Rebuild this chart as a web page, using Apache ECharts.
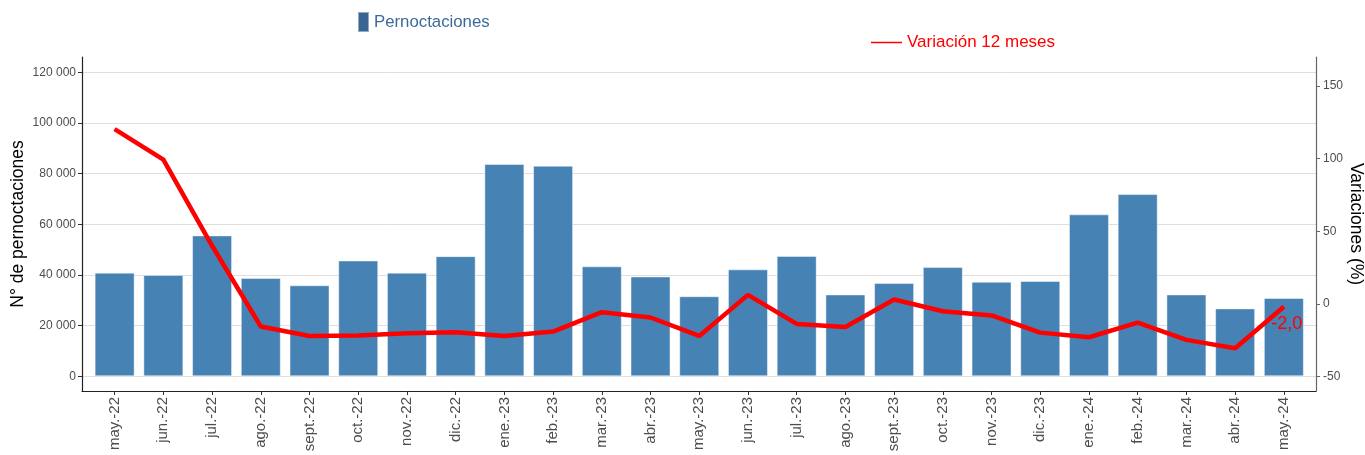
<!DOCTYPE html>
<html>
<head>
<meta charset="utf-8">
<script src="https://cdn.jsdelivr.net/npm/echarts@6/dist/echarts.min.js"></script>
<style>
html,body{margin:0;padding:0;background:#fff;}
#chart{width:1365px;height:455px;}
</style>
</head>
<body>
<div id="chart"></div>
<script>
const categories = ['may.-22','jun.-22','jul.-22','ago.-22','sept.-22','oct.-22','nov.-22','dic.-22','ene.-23','feb.-23','mar.-23','abr.-23','may.-23','jun.-23','jul.-23','ago.-23','sept.-23','oct.-23','nov.-23','dic.-23','ene.-24','feb.-24','mar.-24','abr.-24','may.-24'];
const pernoctaciones = [40900,40000,55600,38800,35900,45700,40900,47400,83800,83100,43400,39400,31600,42200,47500,32300,36800,43100,37300,37600,63900,71900,32300,26800,30900];
const variacion = [120.3,99.3,40.0,-15.6,-22.1,-21.8,-20.2,-19.5,-22.1,-19.1,-5.7,-9.4,-22.1,6.2,-13.8,-15.9,3.0,-5.1,-8.0,-19.8,-23.0,-12.9,-24.8,-30.6,-2.0];
const leftTicks = [0,20000,40000,60000,80000,100000,120000];
const rightTicks = [-50,0,50,100,150];

const idx = categories.map((c,i)=>i);
const fmtThousands = v => String(v).replace(/\B(?=(\d{3})+(?!\d))/g, ' ');
const barData = pernoctaciones.map((v,i)=>[i,v]);
const lineData = variacion.map((v,i)=>{
  const item = {value:[i,v]};
  if (i === variacion.length-1) {
    item.label = {show:true, position:'bottom', distance:8, offset:[3,0],
      formatter: p => p.value[1].toFixed(1).replace('.', ','),
      color:'#FF0000', fontSize:18, fontFamily:'Liberation Sans'};
  }
  return item;
});

const chart = echarts.init(document.getElementById('chart'), null, {renderer:'canvas'});
const font = 'Liberation Sans';
chart.setOption({
  animation:false,
  textStyle:{fontFamily:font},
  legend:[
    {data:['Pernoctaciones'], left:357, top:11, padding:0, icon:'rect', itemWidth:11, itemHeight:20,
     itemStyle:{color:'#3a6591'},
     textStyle:{color:'#3b6a9a', fontSize:16.8, fontFamily:font}},
    {data:['Variación 12 meses'], left:871, top:34, padding:0, icon:'rect', itemWidth:31, itemHeight:1.5,
     textStyle:{color:'#FF0000', fontSize:17, fontFamily:font}}
  ],
  grid:{left:82, right:49, top:57, bottom:64, containLabel:false, outerBoundsMode:'none'},
  xAxis:{
    type:'value', min:-0.67, max:24.66,
    axisLine:{show:true, onZero:false, lineStyle:{color:'#222', width:1.2}},
    axisTick:{show:true, length:4, customValues:idx, lineStyle:{color:'#333'}},
    axisLabel:{customValues:idx, rotate:90, fontSize:15, color:'#4d4d4d', margin:6,
      formatter: v => categories[Math.round(v)]},
    splitLine:{show:false}
  },
  yAxis:[
    {type:'value', min:-5800, max:126000, position:'left',
     name:'N° de pernoctaciones', nameLocation:'middle', nameGap:55, nameMoveOverlap:false,
     nameTextStyle:{fontSize:17.5, color:'#000', fontFamily:font},
     axisLine:{show:true, onZero:false, lineStyle:{color:'#222', width:1.2}},
     axisTick:{show:true, length:4, customValues:leftTicks, lineStyle:{color:'#333'}},
     axisLabel:{customValues:leftTicks, fontSize:12, color:'#4d4d4d', margin:6, formatter: v => fmtThousands(v)},
     splitLine:{show:true, lineStyle:{color:'#DEDEDE', width:1}}
    },
    {type:'value', min:-60, max:170, position:'right',
     name:'Variaciones (%)', nameLocation:'middle', nameGap:31, nameRotate:-90, nameMoveOverlap:false,
     nameTextStyle:{fontSize:17.5, color:'#000', fontFamily:font},
     axisLine:{show:true, onZero:false, lineStyle:{color:'#666', width:1.2}},
     axisTick:{show:true, length:4, customValues:rightTicks, lineStyle:{color:'#666'}},
     axisLabel:{customValues:rightTicks, fontSize:12, color:'#4d4d4d', margin:7},
     splitLine:{show:false}
    }
  ],
  series:[
    {name:'Pernoctaciones', type:'bar', xAxisIndex:0, yAxisIndex:0, data:barData,
     barWidth:40, itemStyle:{color:'#4682B4', borderColor:'rgba(255,255,255,0.45)', borderWidth:1},
     z:2},
    {name:'Variación 12 meses', type:'line', xAxisIndex:0, yAxisIndex:1, data:lineData,
     showSymbol:true, symbol:'circle', symbolSize:1, lineStyle:{color:'#FF0000', width:4.5}, itemStyle:{color:'#FF0000'},
     z:3}
  ]
});
</script>
</body>
</html>
